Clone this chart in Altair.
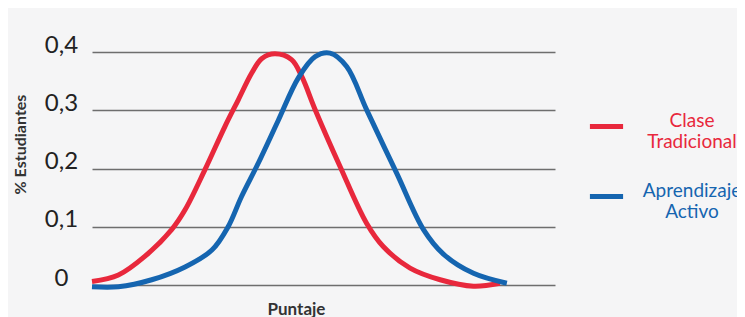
import altair as alt
import pandas as pd

series_names = ["Clase Tradicional", "Aprendizaje Activo"]
series_colors = ["#e8283c", "#1565b0"]

red_x = [0, 5.7, 11.4, 17.2, 20.1, 24.4, 28.7, 31.6, 34.5, 36.7, 39.5, 43.1, 45.3, 48.2, 53.6, 59.3, 62.9, 68.7, 75.2, 82.4, 88.1]
red_y = [0.006, 0.017, 0.049, 0.095, 0.129, 0.198, 0.272, 0.318, 0.364, 0.389, 0.397, 0.387, 0.358, 0.301, 0.203, 0.106, 0.066, 0.029, 0.009, -0.002, 0.003]

blue_x = [0, 5.7, 12.9, 20.1, 25.9, 29.4, 32.3, 35.9, 40.2, 44.6, 48.2, 51.4, 55.0, 59.3, 65.8, 71.6, 75.9, 82.4, 89.6]
blue_y = [-0.003, -0.003, 0.009, 0.031, 0.06, 0.1, 0.152, 0.209, 0.282, 0.356, 0.392, 0.398, 0.375, 0.301, 0.192, 0.095, 0.053, 0.02, 0.003]

y_ticks = [0, 0.1, 0.2, 0.3, 0.4]

rows = []
for i, (xv, yv) in enumerate(zip(red_x, red_y)):
    rows.append({"serie": series_names[0], "puntaje": xv, "pct": yv, "i": i})
for i, (xv, yv) in enumerate(zip(blue_x, blue_y)):
    rows.append({"serie": series_names[1], "puntaje": xv, "pct": yv, "i": i})
df = pd.DataFrame(rows)

FONT = "Lato"

chart = alt.Chart(df).mark_line(strokeWidth=5, interpolate="catmull-rom").encode(
    x=alt.X(
        "puntaje:Q",
        scale=alt.Scale(domain=[0, 100], nice=False),
        axis=alt.Axis(
            title="Puntaje", labels=False, ticks=False, domain=False, grid=False,
            titleFont=FONT, titleFontSize=17, titleFontWeight="bold", titleColor="#333333",
            titleX=204, titleY=24, titleBaseline="middle", titleAlign="center",
        ),
    ),
    y=alt.Y(
        "pct:Q",
        scale=alt.Scale(domain=[0, 0.4], nice=False, zero=False),
        axis=alt.Axis(
            values=y_ticks,
            labelExpr="datum.value == 0 ? '0' : replace(format(datum.value, '.1f'), '.', ',')",
            title="% Estudiantes", domain=False, ticks=False, grid=True,
            gridColor="#6e6e6e", gridWidth=1.3,
            labelFont=FONT, labelFontSize=24, labelColor="#222222",
            labelAlign="center", labelBaseline="middle", labelPadding=31, labelOffset=-7,
            titleFont=FONT, titleFontSize=16, titleFontWeight="bold", titleColor="#333333",
            titleX=-72, titleY=92, titleAngle=270, titleAlign="center", titleBaseline="middle",
        ),
    ),
    color=alt.Color(
        "serie:N",
        scale=alt.Scale(domain=series_names, range=series_colors),
        sort=series_names,
        legend=alt.Legend(
            title=None, orient="none", legendX=495, legendY=55, direction="vertical",
            symbolType="stroke", symbolStrokeWidth=5, symbolSize=1100,
            labelExpr="split(datum.label, ' ')",
            labelAlign="center", labelBaseline="alphabetic", labelOffset=66,
            labelFont=FONT, labelFontSize=19,
            labelColor={"expr": "datum.value == 'Clase Tradicional' ? '#e8283c' : '#1565b0'"},
            rowPadding=25, padding=0, labelLimit=300,
        ),
    ),
    order="i:Q",
).properties(
    width=463, height=233,
    autosize=alt.AutoSizeParams(type="none"),
    padding={"left": 84, "top": 44, "right": 182, "bottom": 32},
    background="#f5f5f6",
).configure_view(stroke=None)

chart.save("out.html", embed_options={"renderer": "svg", "actions": False})
